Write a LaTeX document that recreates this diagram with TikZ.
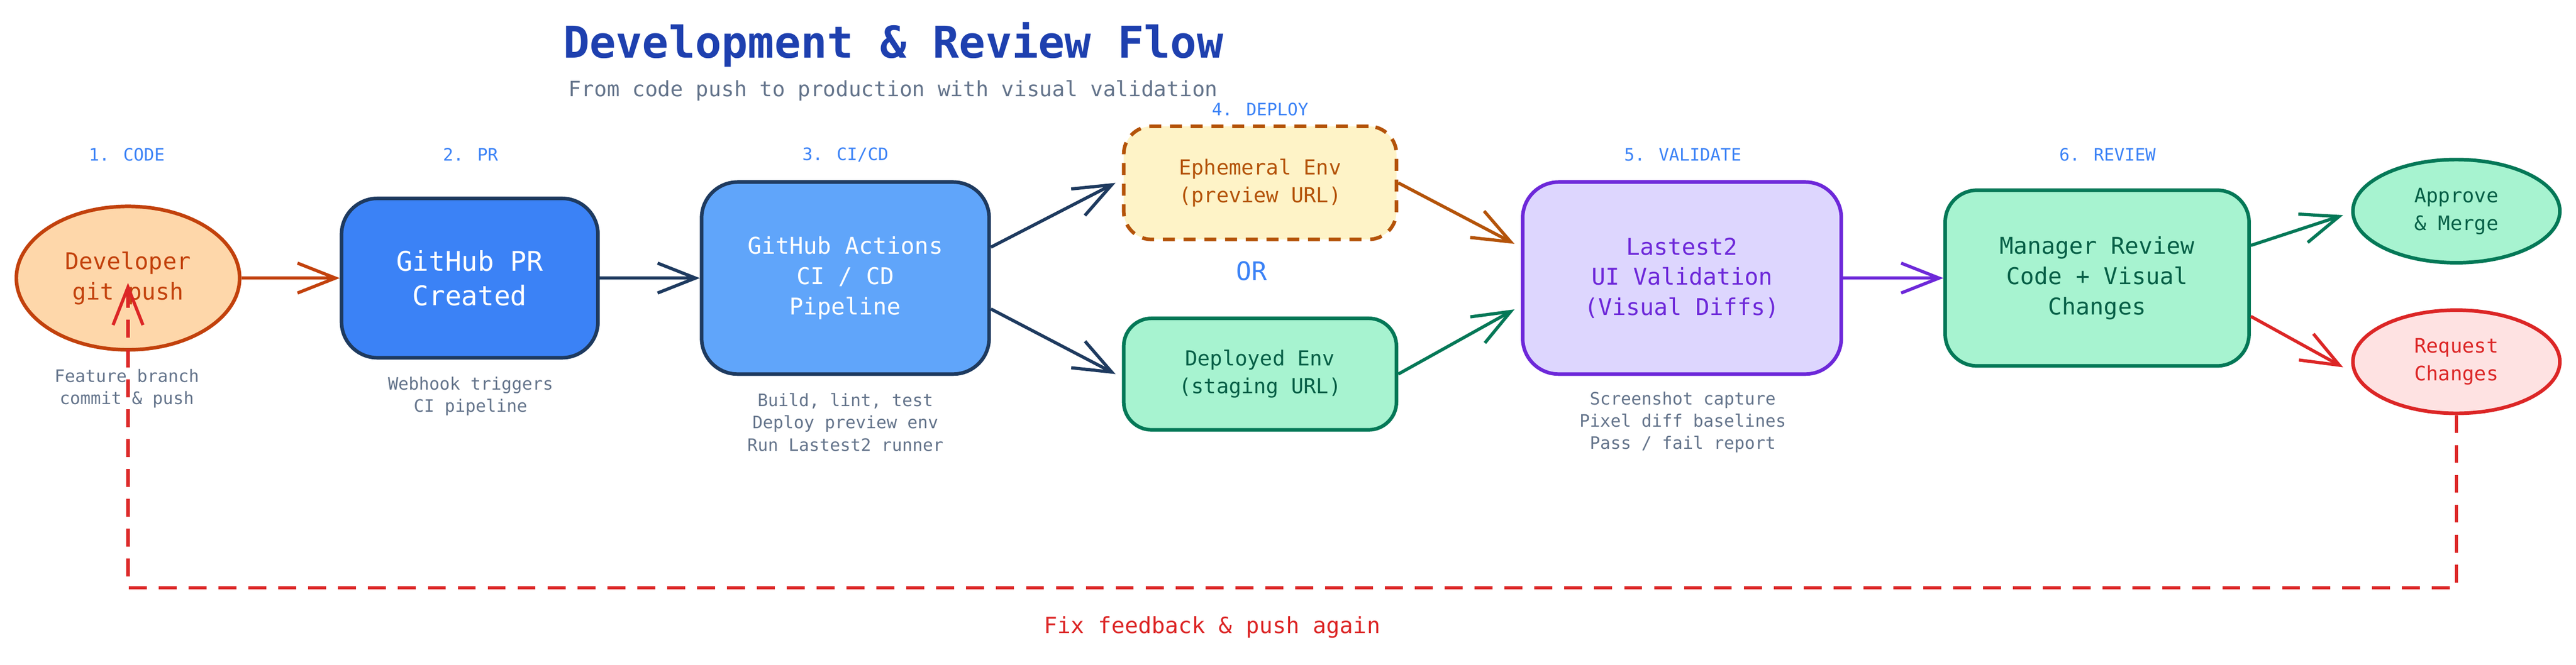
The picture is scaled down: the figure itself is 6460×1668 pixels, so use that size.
\documentclass[tikz,border=0pt]{standalone}
\usepackage{fontspec}
\setmainfont{DejaVu Sans Mono}
\usetikzlibrary{arrows.meta,shapes.geometric}
\definecolor{titleblue}{HTML}{1E40AF}
\definecolor{stageblue}{HTML}{3B82F6}
\definecolor{slate}{HTML}{64748B}
\definecolor{navy}{HTML}{1E3A5F}
\definecolor{orangeD}{HTML}{C2410C}
\definecolor{orangeF}{HTML}{FED7AA}
\definecolor{amberD}{HTML}{B45309}
\definecolor{amberF}{HTML}{FEF3C7}
\definecolor{greenD}{HTML}{047857}
\definecolor{greenT}{HTML}{065F46}
\definecolor{greenF}{HTML}{A7F3D0}
\definecolor{purpleD}{HTML}{6D28D9}
\definecolor{purpleF}{HTML}{DDD6FE}
\definecolor{redD}{HTML}{DC2626}
\definecolor{redF}{HTML}{FEE2E2}
\definecolor{lightblue}{HTML}{60A5FA}
\begin{document}
\begin{tikzpicture}[x=1pt,y=-1pt,
	tip/.style={-{Straight Barb[length=95pt,width=75pt,line width=8pt]}},
	flow/.style={tip,line width=8pt},
	boxnode/.style={rectangle,rounded corners=90pt,line width=9pt,align=center,font=\fontsize{58}{76}\selectfont},
	roundnode/.style={ellipse,line width=9pt,align=center,font=\fontsize{50}{70}\selectfont},
	stagenode/.style={text=stageblue,font=\fontsize{43}{50}\selectfont},
	notenode/.style={text=slate,align=center,font=\fontsize{43}{56}\selectfont}]
	
	\useasboundingbox (0,0) rectangle (6460,1668);
	
	\node [text=titleblue,font=\fontsize{110}{120}\selectfont\bfseries] (title) at (2240,112) {Development \& Review Flow};
	\node [text=slate,font=\fontsize{53}{60}\selectfont] (subtitle) at (2240,228) {From code push to production with visual validation};
	
	\node [stagenode] (s1) at (318,388) {1. CODE};
	\node [stagenode] (s2) at (1180,388) {2. PR};
	\node [stagenode] (s3) at (2120,388) {3. CI/CD};
	\node [stagenode] (s4) at (3160,275) {4. DEPLOY};
	\node [stagenode] (s5) at (4220,388) {5. VALIDATE};
	\node [stagenode] (s6) at (5285,388) {6. REVIEW};
	
	\node [roundnode,draw=orangeD,fill=orangeF,text=orangeD,minimum width=560pt,minimum height=360pt,font=\fontsize{58}{76}\selectfont] (dev) at (321,698) {Developer\\git push};
	\node [boxnode,draw=navy,fill=stageblue,text=white,minimum width=643pt,minimum height=400pt,font=\fontsize{68}{86}\selectfont] (pr) at (1178,698) {GitHub PR\\Created};
	\node [boxnode,draw=navy,fill=lightblue,text=white,minimum width=721pt,minimum height=482pt] (ci) at (2120,698) {GitHub Actions\\CI / CD\\Pipeline};
	\node [boxnode,draw=amberD,fill=amberF,text=amberD,dashed,dash pattern=on 30pt off 22pt,rounded corners=70pt,minimum width=684pt,minimum height=284pt,font=\fontsize{52}{70}\selectfont] (eph) at (3160,459) {Ephemeral Env\\(preview URL)};
	\node [text=stageblue,font=\fontsize{64}{70}\selectfont] (or) at (3139,680) {OR};
	\node [boxnode,draw=greenD,fill=greenF,text=greenT,rounded corners=70pt,minimum width=684pt,minimum height=280pt,font=\fontsize{52}{70}\selectfont] (dep) at (3160,939) {Deployed Env\\(staging URL)};
	\node [boxnode,draw=purpleD,fill=purpleF,text=purpleD,minimum width=799pt,minimum height=482pt] (val) at (4218,698) {Lastest2\\UI Validation\\(Visual Diffs)};
	\node [boxnode,draw=greenD,fill=greenF,text=greenT,rounded corners=80pt,minimum width=762pt,minimum height=441pt] (rev) at (5259,698) {Manager Review\\Code + Visual\\Changes};
	\node [roundnode,draw=greenD,fill=greenF,text=greenT,minimum width=519pt,minimum height=259pt] (ok) at (6160,530) {Approve\\\& Merge};
	\node [roundnode,draw=redD,fill=redF,text=redD,minimum width=519pt,minimum height=259pt] (req) at (6160,908) {Request\\Changes};
	
	\node [notenode] (n1) at (318,975) {Feature branch\\commit \& push};
	\node [notenode] (n2) at (1180,995) {Webhook triggers\\CI pipeline};
	\node [notenode] (n3) at (2120,1060) {Build, lint, test\\Deploy preview env\\Run Lastest2 runner};
	\node [notenode] (n5) at (4220,1060) {Screenshot capture\\Pixel diff baselines\\Pass / fail report};
	
	\draw [flow,orangeD] (dev) to (pr);
	\draw [flow,navy] (pr) to (ci);
	\draw [flow,navy] (ci.12.5) to ([xshift=-16pt]eph.west);
	\draw [flow,navy] (ci.-12.5) to ([xshift=-16pt]dep.west);
	\draw [flow,amberD] (eph.east) to ([xshift=-16pt]val.168.5);
	\draw [flow,greenD] (dep.east) to ([xshift=-16pt]val.191.5);
	\draw [flow,purpleD] (val) to (rev);
	\draw [flow,greenD] (rev.12) to ([xshift=-20pt,yshift=-10pt]ok.west);
	\draw [flow,redD] (rev.-14) to ([xshift=-20pt,yshift=-14pt]req.west);
	
	\coordinate (c1) at (6160,1475);
	\coordinate (c2) at (321,1475);
	\coordinate (c3) at (321,710);
	\draw [tip,redD,line width=8pt,dash pattern=on 45pt off 30pt] (req.south) -- (c1) -- (c2) -- (c3);
	\node [text=redD,font=\fontsize{56}{64}\selectfont] (fix) at (3040,1574) {Fix feedback \& push again};
\end{tikzpicture}
\end{document}
